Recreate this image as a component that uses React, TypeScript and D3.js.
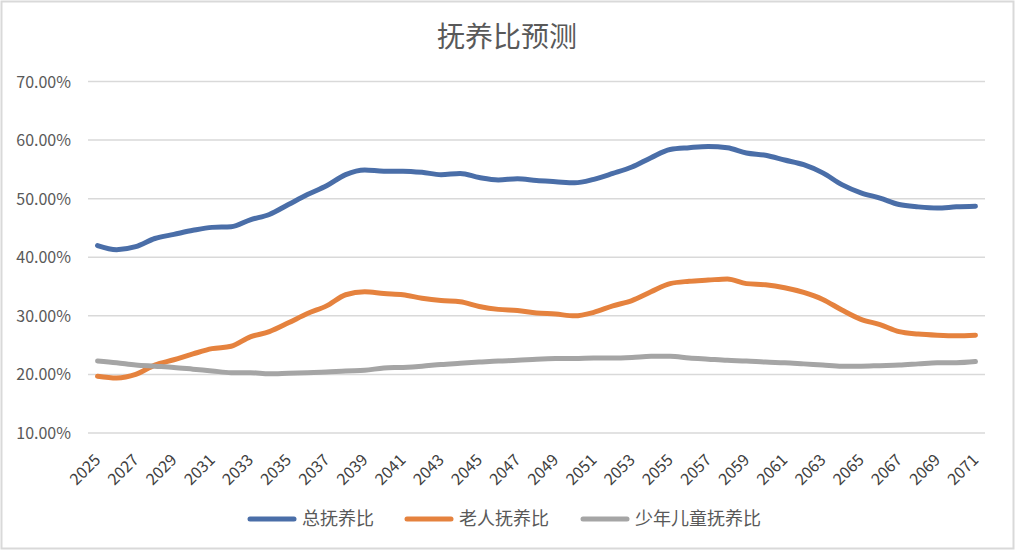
import React from "react";
import * as d3 from "d3";

const years: number[] = d3.range(2025, 2072);
const totalRatio = [42.0,41.3,41.8,43.2,43.9,44.6,45.1,45.2,46.4,47.3,49.0,50.7,52.2,54.1,54.9,54.7,54.7,54.5,54.1,54.3,53.6,53.2,53.4,53.1,52.9,52.7,53.3,54.3,55.4,57.0,58.4,58.7,58.9,58.7,57.8,57.4,56.6,55.8,54.4,52.4,51.0,50.1,49.0,48.6,48.4,48.6,48.7];
const elderRatio = [19.7,19.4,20.0,21.6,22.5,23.5,24.4,24.8,26.4,27.3,28.8,30.4,31.7,33.6,34.1,33.8,33.6,33.0,32.6,32.4,31.6,31.1,30.9,30.5,30.3,30.0,30.6,31.7,32.6,34.1,35.5,35.9,36.1,36.3,35.5,35.3,34.8,34.0,32.8,31.0,29.4,28.5,27.3,26.9,26.7,26.6,26.7];
const childRatio = [22.3,22.0,21.6,21.4,21.2,20.9,20.6,20.3,20.3,20.1,20.2,20.3,20.4,20.6,20.7,21.1,21.2,21.4,21.7,21.9,22.1,22.3,22.4,22.6,22.7,22.7,22.8,22.8,22.9,23.1,23.1,22.8,22.6,22.4,22.3,22.1,22.0,21.8,21.6,21.4,21.4,21.5,21.6,21.8,22.0,22.0,22.2];
const yTicks = [10, 20, 30, 40, 50, 60, 70];
const seriesNames = ["总抚养比", "老人抚养比", "少年儿童抚养比"];
const seriesColors = ["#4a6ea8", "#e5823e", "#a5a5a5"];
const title = "抚养比预测";

const W = 1015, H = 550;
const font = "'Noto Sans CJK SC', 'Noto Sans', sans-serif";

export default function App() {
  const x = d3.scaleBand<number>().domain(years).range([88, 985]);
  const y = d3.scaleLinear().domain([10, 70]).range([433, 81.5]);
  const line = d3.line<number>()
    .x((_, i) => (x(years[i]) as number) + x.bandwidth() / 2)
    .y((d) => y(d))
    .curve(d3.curveMonotoneX);
  const series = [totalRatio, elderRatio, childRatio];
  const legendX = [250, 407, 583];
  return (
    <svg width={W} height={H} style={{ position: "absolute", left: 0, top: 0, background: "#fff" }}>
      <rect x={1.5} y={1.5} width={W - 3} height={H - 3} fill="#fff" stroke="#d9d9d9" strokeWidth={2} />
      <text x={507} y={47} textAnchor="middle" fontFamily={font} fontSize={28} fill="#595959">{title}</text>
      {yTicks.map((t) => (
        <g key={t}>
          <line x1={88} x2={985} y1={y(t)} y2={y(t)} stroke="#d9d9d9" strokeWidth={1.5} />
          <text x={71} y={y(t) + 6} textAnchor="end" fontFamily={font} fontSize={16} fill="#595959">{t.toFixed(2) + "%"}</text>
        </g>
      ))}
      {years.filter((_, i) => i % 2 === 0).map((yr) => {
        const cx = (x(yr) as number) + x.bandwidth() / 2;
        return (
          <text key={yr} transform={`translate(${cx + 4},${461}) rotate(-45)`} textAnchor="end" fontFamily={font} fontSize={16} fill="#404040">{yr}</text>
        );
      })}
      {series.map((s, i) => (
        <path key={i} d={line(s) || ""} fill="none" stroke={seriesColors[i]} strokeWidth={5} strokeLinecap="round" strokeLinejoin="round" />
      ))}
      {seriesNames.map((n, i) => (
        <g key={n}>
          <line x1={legendX[i]} x2={legendX[i] + 44} y1={519} y2={519} stroke={seriesColors[i]} strokeWidth={5} strokeLinecap="round" />
          <text x={legendX[i] + 52} y={525} fontFamily={font} fontSize={18} fill="#595959">{n}</text>
        </g>
      ))}
    </svg>
  );
}
